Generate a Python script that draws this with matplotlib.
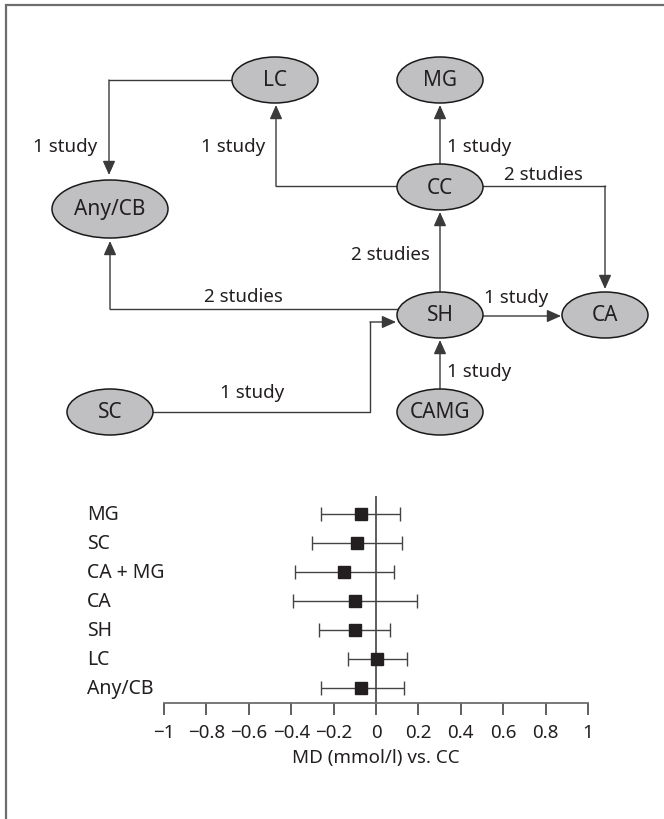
import matplotlib.pyplot as plt
from matplotlib.patches import Ellipse
from matplotlib import transforms
import numpy as np

plt.rcParams['font.family'] = ['Noto Sans', 'DejaVu Sans']

# network of comparisons
node_names = ['LC', 'MG', 'CC', 'Any/CB', 'SH', 'CA', 'SC', 'CAMG']
edge_from = ['LC', 'CC', 'CC', 'CC', 'SH', 'SH', 'SH', 'SC', 'CAMG']
edge_to = ['Any/CB', 'LC', 'MG', 'CA', 'CC', 'Any/CB', 'CA', 'SH', 'SH']
edge_labels = ['1 study', '1 study', '1 study', '2 studies', '2 studies',
               '2 studies', '1 study', '1 study', '1 study']

# forest plot: mean difference vs CC (mmol/l)
treatments = ['MG', 'SC', 'CA + MG', 'CA', 'SH', 'LC', 'Any/CB']
md = [-0.07, -0.09, -0.15, -0.10, -0.10, 0.005, -0.07]
ci_low = [-0.26, -0.30, -0.38, -0.39, -0.27, -0.13, -0.26]
ci_high = [0.115, 0.123, 0.083, 0.195, 0.066, 0.145, 0.132]
xticks = [-1, -0.8, -0.6, -0.4, -0.2, 0, 0.2, 0.4, 0.6, 0.8, 1]
xticklabels = ['\u22121', '\u22120.8', '\u22120.6', '\u22120.4', '\u22120.2',
               '0', '0.2', '0.4', '0.6', '0.8', '1']

# ---- layout (pixels, y down) ----
W, H = 664, 820
node_xy = {'LC': (275, 81), 'MG': (440, 81), 'CC': (440, 188),
           'Any/CB': (110, 210), 'SH': (440, 316), 'CA': (605, 316),
           'SC': (110, 413), 'CAMG': (440, 413)}
node_wh = {'Any/CB': (116, 58)}
routes = [
    [(232, 81), (109, 81), (109, 176)],
    [(397, 187), (276, 187), (276, 106)],
    [(440, 165), (440, 106)],
    [(483, 187), (605, 187), (605, 290)],
    [(440, 293), (440, 213)],
    [(397, 310), (110, 310), (110, 242)],
    [(483, 317), (561, 317)],
    [(153, 413), (370, 413), (370, 323), (396, 323)],
    [(440, 390), (440, 341)],
]
label_xy = [(65, 147), (233, 147), (479, 147), (543, 175), (390, 255),
            (243, 297), (516, 298), (252, 393), (479, 372)]

txt = '#231f20'
line_c = '#3a3a3a'
fs = 13.5

fig = plt.figure(figsize=(W / 100, H / 100), dpi=100)
ax = fig.add_axes([0, 0, 1, 1])
ax.set_xlim(0, W)
ax.set_ylim(H, 0)
ax.axis('off')

# frame (top and left edge)
ax.plot([6, 6, W], [H, 6, 6], color='#6d6d6d', lw=1.6, solid_joinstyle='miter')

for (a, b, lab), pts, lxy in zip(zip(edge_from, edge_to, edge_labels), routes, label_xy):
    xs = [p[0] for p in pts]
    ys = [p[1] for p in pts]
    ax.plot(xs[:-1], ys[:-1], color=line_c, lw=1.0)
    ax.annotate('', xy=pts[-1], xytext=pts[-2],
                arrowprops=dict(arrowstyle='-|>,head_length=0.85,head_width=0.38',
                                mutation_scale=10, color=line_c, lw=1.0,
                                shrinkA=0, shrinkB=0, facecolor='#1a1a1a'))
    ax.text(lxy[0], lxy[1], lab, ha='center', va='center', fontsize=fs, color=txt)

for name in node_names:
    x, y = node_xy[name]
    w, h = node_wh.get(name, (86, 46))
    ax.add_patch(Ellipse((x, y), w, h, facecolor='#c0c0c3', edgecolor='#1a1a1a',
                         lw=1.1, zorder=3))
    ax.text(x, y, name, ha='center', va='center', fontsize=15, color=txt, zorder=4)

# ---- forest plot ----
rows = np.arange(len(treatments))[::-1]
fax = fig.add_axes([164 / W, 1 - 704 / H, 424 / W, 207 / H])
fax.patch.set_alpha(0)
fax.set_xlim(-1, 1)
fax.set_ylim(-0.52, 6.62)
md_a = np.array(md)
err = [md_a - np.array(ci_low), np.array(ci_high) - md_a]
fax.axvline(0, color='#333333', lw=1.1)
fax.errorbar(md_a, rows, xerr=err, fmt='s', ms=8, mfc=txt, mec=txt,
             ecolor='#444444', elinewidth=1.0, capsize=5, capthick=1.0, zorder=3)
for s in ['top', 'right', 'left']:
    fax.spines[s].set_visible(False)
fax.spines['bottom'].set_color('#6d6d6d')
fax.spines['bottom'].set_linewidth(1.3)
fax.set_yticks([])
fax.set_xticks(xticks)
fax.set_xticklabels(xticklabels)
fax.tick_params(axis='x', direction='out', length=8.5, width=1.2, color='#444444',
                labelsize=fs, labelcolor=txt, pad=6)
fax.set_xlabel('MD (mmol/l) vs. CC', fontsize=fs, color=txt, labelpad=5)

trans = transforms.blended_transform_factory(fig.transFigure, fax.transData)
for name, r in zip(treatments, rows):
    fax.text(87 / W, r, name, transform=trans, ha='left', va='center',
             fontsize=14, color=txt)

fig.savefig('out.png', dpi=100)
